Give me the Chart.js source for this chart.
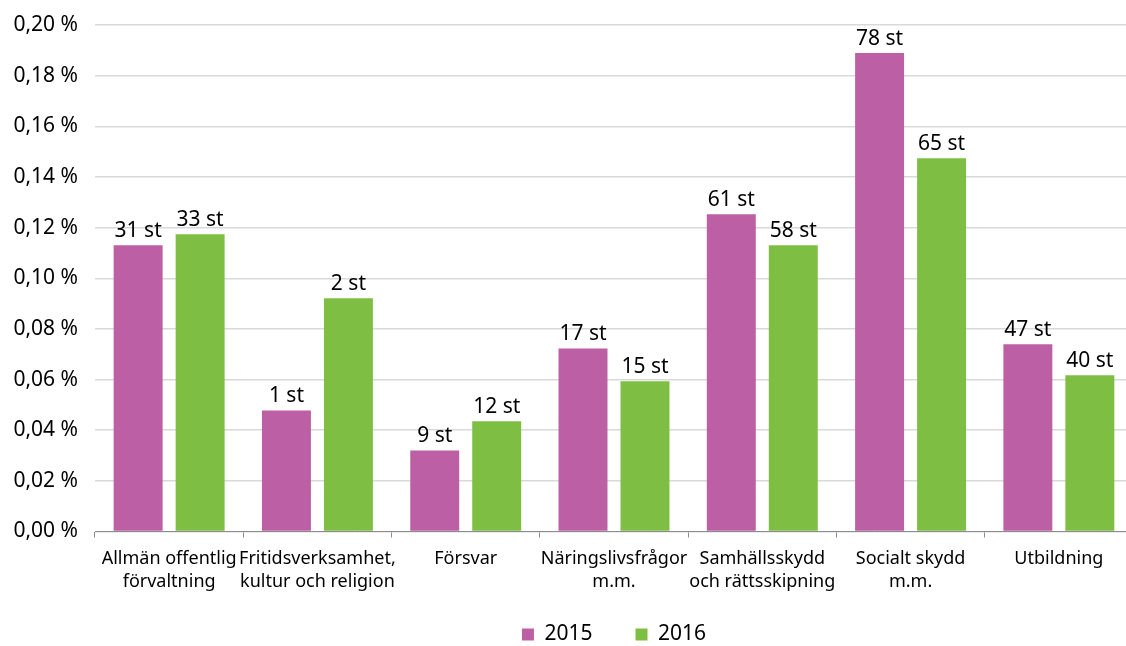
<!DOCTYPE html>
<html><head><meta charset="utf-8">
<script src="https://cdn.jsdelivr.net/npm/chart.js@4"></script>
<style>html,body{margin:0;padding:0;background:#fff;overflow:hidden;}#wrap{width:1126px;height:646px;overflow:hidden;}</style>
</head><body><div id="wrap"><canvas id="c" width="1133" height="646"></canvas></div>
<script>
const categories = [
  ["Allmän offentlig","förvaltning"],
  ["Fritidsverksamhet,","kultur och religion"],
  ["Försvar"],
  ["Näringslivsfrågor","m.m."],
  ["Samhällsskydd","och rättsskipning"],
  ["Socialt skydd","m.m."],
  ["Utbildning"]
];
const seriesNames = ["2015","2016"];
const values2015 = [0.113, 0.0478, 0.032, 0.0723, 0.1253, 0.1889, 0.0739];
const values2016 = [0.1174, 0.0921, 0.0435, 0.0593, 0.113, 0.1474, 0.0617];
const counts2015 = [31, 1, 9, 17, 61, 78, 47];
const counts2016 = [33, 2, 12, 15, 58, 65, 40];
const yTicks = [0, 0.02, 0.04, 0.06, 0.08, 0.10, 0.12, 0.14, 0.16, 0.18, 0.20];

const FONT = "'Noto Sans', sans-serif";
const labelPlugin = {
  id: 'barLabels',
  afterDatasetsDraw(chart) {
    const ctx = chart.ctx;
    const counts = [counts2015, counts2016];
    ctx.save();
    ctx.font = "21px " + FONT;
    ctx.fillStyle = "#000";
    ctx.textAlign = "center";
    ctx.textBaseline = "bottom";
    chart.data.datasets.forEach((ds, i) => {
      const meta = chart.getDatasetMeta(i);
      meta.data.forEach((bar, j) => {
        ctx.fillText(counts[i][j] + " st", bar.x, bar.y - 4);
      });
    });
    ctx.restore();
  }
};

new Chart(document.getElementById('c'), {
  type: 'bar',
  data: {
    labels: categories,
    datasets: [
      { label: seriesNames[0], data: values2015, backgroundColor: '#BD5FA4', categoryPercentage: 0.836, barPercentage: 0.79 },
      { label: seriesNames[1], data: values2016, backgroundColor: '#7EBF43', categoryPercentage: 0.836, barPercentage: 0.79 }
    ]
  },
  options: {
    responsive: false,
    animation: false,
    layout: { padding: { top: 25, right: 0, left: 0, bottom: -9 } },
    plugins: {
      legend: {
        position: 'bottom',
        fullSize: false,
        labels: { font: { family: FONT, size: 21 }, color: '#000', boxWidth: 12, boxHeight: 12, padding: 43 }
      },
      tooltip: { enabled: false }
    },
    scales: {
      x: {
        grid: { display: true, drawOnChartArea: false, drawTicks: true, tickLength: 6, color: '#8c8c8c', offset: true },
        border: { display: true, color: '#8c8c8c' },
        ticks: { font: { family: FONT, size: 18, lineHeight: 1.28 }, color: '#000', maxRotation: 0, autoSkip: false, padding: 10 },
        afterFit(s) { s.height = 49.5; s._computeLabelArea = () => undefined; }
      },
      y: {
        min: 0, max: 0.2,
        afterBuildTicks(s) { s.ticks = yTicks.map(v => ({ value: v })); },
        grid: { color: '#d9d9d9', drawTicks: true, tickLength: 17, tickColor: 'rgba(0,0,0,0)', lineWidth: 1.5 },
        border: { display: false },
        ticks: {
          font: { family: FONT, size: 21 }, color: '#000', padding: 0,
          callback: v => v.toFixed(2).replace('.', ',') + ' %'
        },
        afterFit(s) { s.width = 95; }
      }
    }
  },
  plugins: [labelPlugin]
});
</script></body></html>
